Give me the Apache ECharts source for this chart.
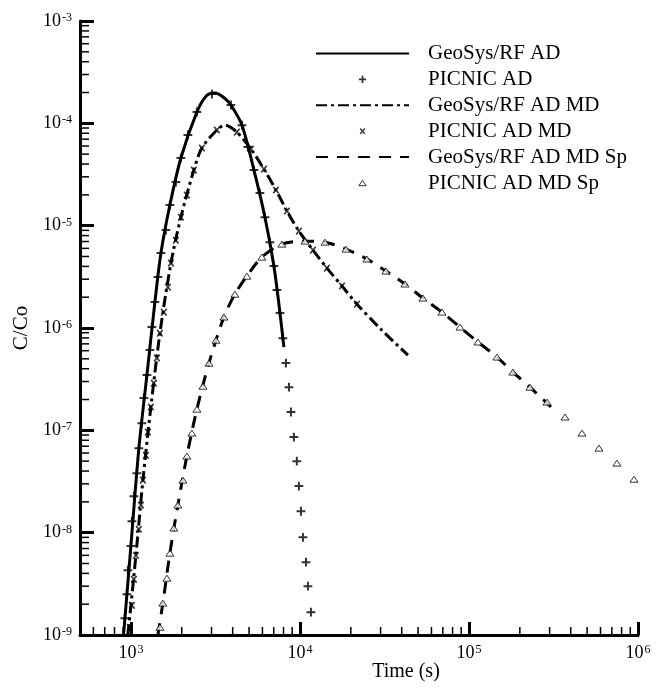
<!DOCTYPE html>
<html>
<head>
<meta charset="utf-8">
<script src="https://cdn.jsdelivr.net/npm/echarts@6/dist/echarts.min.js"></script>
<style>html,body{margin:0;padding:0;background:#fff}#c{width:664px;height:689px}</style>
</head>
<body>
<div id="c"></div>
<script>
// ---- data ----
const seriesNames = ['GeoSys/RF AD','PICNIC AD','GeoSys/RF AD MD','PICNIC AD MD','GeoSys/RF AD MD Sp','PICNIC AD MD Sp'];

const geoAdTime = [905, 1000, 1115, 1244, 1387, 1506, 1701, 1976, 2458, 2800, 3150, 3600, 3906, 4540, 5346, 6209, 7015, 7621, 8040];
const geoAdConc = [1e-9, 7.4e-9, 6.7e-8, 3.47e-7, 1.79e-6, 5.4e-6, 1.59e-5, 4.58e-5, 1.29e-4, 1.86e-4, 1.98e-4, 1.75e-4, 1.51e-4, 9.6e-5, 3.49e-5, 1.21e-5, 4.03e-6, 1.40e-6, 6.5e-7];

const picnicAdTime = [921,947,960,1000,1014,1042,1085,1115,1161,1194,1244,1295,1331,1387,1445,1506,1611,1701,1846,1976,2174,2458,3016,3906,4540,4921,5346,5800,6209,6643,7015,7310,7621,7930,8265,8610,8850,9210,9590,9860,10140,10420,10860,11150,11620];
const picnicAdConc = [1.46e-9,2.5e-9,4.3e-9,7.4e-9,1.29e-8,2.27e-8,3.8e-8,6.7e-8,1.17e-7,2.07e-7,3.47e-7,6.1e-7,1.02e-6,1.79e-6,3.15e-6,5.4e-6,9.06e-6,1.59e-5,2.67e-5,4.58e-5,7.69e-5,1.29e-4,1.93e-4,1.51e-4,9.6e-5,5.86e-5,3.49e-5,2.08e-5,1.21e-5,6.9e-6,4.03e-6,2.35e-6,1.40e-6,7.96e-7,4.54e-7,2.64e-7,1.51e-7,8.6e-8,5.0e-8,2.85e-8,1.62e-8,9.0e-9,5.15e-9,3.0e-9,1.67e-9];

const geoMdTime = [960, 1071, 1178, 1313, 1485, 1726, 1976, 2358, 2630, 3228, 3597, 4236, 5129, 6124, 7211, 8380, 9860, 11940, 14450, 17740, 21750, 30550, 43550];
const geoMdConc = [1e-9, 6.0e-9, 3.26e-8, 1.69e-7, 8.9e-7, 4.31e-6, 1.21e-5, 3.49e-5, 5.74e-5, 8.6e-5, 9.6e-5, 8.2e-5, 5.61e-5, 3.57e-5, 2.23e-5, 1.39e-5, 8.85e-6, 5.77e-6, 3.85e-6, 2.57e-6, 1.71e-6, 9.5e-7, 5.43e-7];

const picnicMdTime = [987,1014,1042,1071,1115,1146,1178,1227,1261,1313,1368,1425,1485,1567,1656,1726,1846,1976,2143,2358,2630,3228,4236,5129,6124,7211,8380,9860,11940,14450,17740,21750];
const picnicMdConc = [1.19e-9,1.95e-9,3.5e-9,6.0e-9,1.08e-8,1.86e-8,3.26e-8,5.7e-8,9.6e-8,1.69e-7,2.89e-7,5.1e-7,8.9e-7,1.43e-6,2.51e-6,4.31e-6,7.2e-6,1.21e-5,1.99e-5,3.49e-5,5.74e-5,8.6e-5,8.2e-5,5.61e-5,3.57e-5,2.23e-5,1.39e-5,8.85e-6,5.77e-6,3.85e-6,2.57e-6,1.71e-6];

const geoSpTime = [1445, 1546, 1701, 1897, 2143, 2458, 2897, 3550, 4124, 4856, 5957, 7820, 10710, 14070, 18720, 24900, 32250, 41800, 53400, 69200, 88500, 113000, 146500, 182000, 229500, 305700];
const geoSpConc = [1e-9, 2.05e-9, 6.3e-9, 1.86e-8, 5.6e-8, 1.61e-7, 4.54e-7, 1.28e-6, 2.14e-6, 3.21e-6, 4.93e-6, 6.6e-6, 7.06e-6, 6.9e-6, 5.9e-6, 4.72e-6, 3.6e-6, 2.69e-6, 1.96e-6, 1.43e-6, 1.02e-6, 7.3e-7, 5.2e-7, 3.71e-7, 2.64e-7, 1.69e-7];

const picnicSpTime = [1486,1546,1633,1701,1795,1897,2031,2143,2295,2458,2669,2897,3187,3550,4124,4856,5957,7820,10710,14070,18720,24900,32250,41800,53400,69200,88500,113000,146500,182000,229500,289500,370000,466500,587500,751000,947000];
const picnicSpConc = [1.19e-9,2.05e-9,3.59e-9,6.3e-9,1.11e-8,1.86e-8,3.26e-8,5.6e-8,9.4e-8,1.61e-7,2.70e-7,4.54e-7,7.6e-7,1.28e-6,2.14e-6,3.21e-6,4.93e-6,6.6e-6,7.06e-6,6.9e-6,5.9e-6,4.72e-6,3.6e-6,2.69e-6,1.96e-6,1.43e-6,1.02e-6,7.3e-7,5.2e-7,3.71e-7,2.64e-7,1.89e-7,1.35e-7,9.4e-8,6.7e-8,4.78e-8,3.33e-8];

// axis ranges and tick values
const xMin = 500, xMax = 1e6;
const yMin = 1e-9, yMax = 1e-3;
const xMinorTicks = [600,700,800,900,2000,3000,4000,5000,6000,7000,8000,9000,20000,30000,40000,50000,60000,70000,80000,90000,200000,300000,400000,500000,600000,700000,800000,900000];
const yMinorTicks = [2e-9,3e-9,4e-9,5e-9,6e-9,7e-9,8e-9,9e-9,2e-8,3e-8,4e-8,5e-8,6e-8,7e-8,8e-8,9e-8,2e-7,3e-7,4e-7,5e-7,6e-7,7e-7,8e-7,9e-7,2e-6,3e-6,4e-6,5e-6,6e-6,7e-6,8e-6,9e-6,2e-5,3e-5,4e-5,5e-5,6e-5,7e-5,8e-5,9e-5,2e-4,3e-4,4e-4,5e-4,6e-4,7e-4,8e-4,9e-4];

// ---- chart ----
const FONT = 'Liberation Serif';
const zip = (a, b) => a.map((v, i) => [v, b[i]]);
const PLUS = 'path://M0,0M10,10M1,5L9,5M5,1L5,9';
const CROSS = 'path://M0,0M10,10M2.5,2L7.5,8M7.5,2L2.5,8';
const TRI = 'path://M0,0M10,10M5,2L9,8L1,8Z';

function powLabel(v) {
  const e = Math.round(Math.log10(v));
  if (Math.abs(Math.log10(v) - e) > 1e-6) return '';
  return '{b|10}{s|' + e + '}';
}
const richLabel = {
  b: { fontFamily: FONT, fontSize: 18, color: '#000', verticalAlign: 'bottom' },
  s: { fontFamily: FONT, fontSize: 12, color: '#000', verticalAlign: 'top', padding: [0, 0, 0, 1] }
};

const chart = echarts.init(document.getElementById('c'), null, { renderer: 'canvas' });
const lineBase = { type: 'line', symbol: 'none', showSymbol: false, smooth: 0.3, z: 3 };
const hiddenSymbol = { opacity: 0 };
chart.setOption({
  animation: false,
  backgroundColor: '#fff',
  grid: { left: 80, right: 26, top: 21, bottom: 54, containLabel: false },
  title: { text: 'Time (s)', left: 401, top: 657, textAlign: 'center',
    textStyle: { fontFamily: FONT, fontSize: 20, fontWeight: 'normal', color: '#000' } },
  legend: {
    orient: 'vertical', left: 315, top: 43, padding: 0,
    itemWidth: 93, itemHeight: 9, itemGap: 4.9,
    textStyle: { fontFamily: FONT, fontSize: 21, color: '#000', lineHeight: 20, padding: [0, 0, 0, 14] },
    data: [
      { name: seriesNames[0], itemStyle: hiddenSymbol },
      { name: seriesNames[1], itemStyle: { borderWidth: 1.8 } },
      { name: seriesNames[2], itemStyle: hiddenSymbol },
      { name: seriesNames[3], itemStyle: { borderWidth: 1.4 } },
      { name: seriesNames[4], itemStyle: hiddenSymbol },
      { name: seriesNames[5], itemStyle: { borderWidth: 1 } }
    ]
  },
  xAxis: {
    type: 'log', logBase: 10, min: xMin, max: xMax,
    axisLine: { lineStyle: { color: '#000', width: 3 } },
    axisTick: { inside: true, length: 13, lineStyle: { color: '#000', width: 3 } },
    axisLabel: { formatter: powLabel, rich: richLabel, margin: 9, showMinLabel: false },
    splitLine: { show: false }, minorTick: { show: false }
  },
  yAxis: {
    type: 'log', logBase: 10, min: yMin, max: yMax,
    name: 'C/Co', nameLocation: 'middle', nameGap: 47, nameRotate: 90,
    nameTextStyle: { fontFamily: FONT, fontSize: 21, color: '#000' },
    axisLine: { lineStyle: { color: '#000', width: 3 } },
    axisTick: { inside: true, length: 14, lineStyle: { color: '#000', width: 3 } },
    axisLabel: { formatter: powLabel, rich: richLabel, margin: 8 },
    splitLine: { show: false }
  },
  series: [
    { type: 'custom', silent: true, z: 2, clip: false,
      data: xMinorTicks.map(v => [v, yMin]),
      renderItem: (p, api) => { const c = api.coord([api.value(0), api.value(1)]);
        return { type: 'line', shape: { x1: c[0], y1: c[1], x2: c[0], y2: c[1] - 8 }, style: { stroke: '#000', lineWidth: 1.5 } }; } },
    { type: 'custom', silent: true, z: 2, clip: false,
      data: yMinorTicks.map(v => [xMin, v]),
      renderItem: (p, api) => { const c = api.coord([api.value(0), api.value(1)]);
        return { type: 'line', shape: { x1: c[0], y1: c[1], x2: c[0] + 9, y2: c[1] }, style: { stroke: '#000', lineWidth: 1.5 } }; } },
    Object.assign({}, lineBase, { name: seriesNames[0], data: zip(geoAdTime, geoAdConc),
      lineStyle: { color: '#000', width: 3, type: 'solid' }, itemStyle: { color: '#000' } }),
    { type: 'scatter', name: seriesNames[1], data: zip(picnicAdTime, picnicAdConc), z: 4,
      symbol: PLUS, symbolSize: 11, symbolKeepAspect: true,
      itemStyle: { color: '#000', borderColor: '#000', borderWidth: 2 } },
    Object.assign({}, lineBase, { name: seriesNames[2], data: zip(geoMdTime, geoMdConc),
      lineStyle: { color: '#000', width: 3, type: [11, 4, 3, 4] }, itemStyle: { color: '#000' } }),
    { type: 'scatter', name: seriesNames[3], data: zip(picnicMdTime, picnicMdConc), z: 4,
      symbol: CROSS, symbolSize: 11, symbolKeepAspect: true,
      itemStyle: { color: '#000', borderColor: '#000', borderWidth: 1.6 } },
    Object.assign({}, lineBase, { name: seriesNames[4], data: zip(geoSpTime, geoSpConc),
      lineStyle: { color: '#000', width: 3, type: [12, 9] }, itemStyle: { color: '#000' } }),
    { type: 'scatter', name: seriesNames[5], data: zip(picnicSpTime, picnicSpConc), z: 4,
      symbol: TRI, symbolSize: 10, symbolKeepAspect: true,
      itemStyle: { color: '#fff', borderColor: '#000', borderWidth: 1 } }
  ]
});
</script>
</body>
</html>
